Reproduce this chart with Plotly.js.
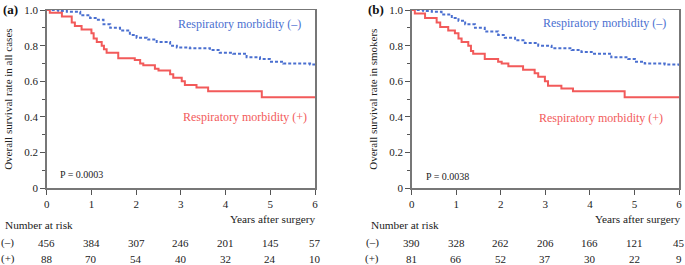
<!DOCTYPE html>
<html><head><meta charset="utf-8">
<script src="https://cdn.plot.ly/plotly-3.0.1.min.js"></script>
<style>html,body{margin:0;padding:0;background:#fff}#c{width:685px;height:265px}</style>
</head><body><div id="c"></div>
<script>
// Panel (a): all cases
const aNegT = [0, 0.26, 0.45, 0.75, 0.97, 1.12, 1.27, 1.42, 1.64, 1.86, 2.01, 2.24, 2.46, 2.76, 2.91, 3.2, 3.65, 3.87, 4.17, 4.47, 4.77, 4.99, 5.29, 5.89, 6.0];
const aNegS = [1.0, 0.995, 0.99, 0.97, 0.955, 0.945, 0.92, 0.9, 0.885, 0.86, 0.845, 0.835, 0.82, 0.80, 0.79, 0.785, 0.775, 0.76, 0.755, 0.735, 0.725, 0.71, 0.70, 0.695, 0.685];
const aPosT = [0, 0.07, 0.34, 0.56, 0.63, 0.78, 1.0, 1.05, 1.12, 1.23, 1.28, 1.34, 1.6, 1.97, 2.09, 2.16, 2.42, 2.5, 2.76, 2.83, 3.02, 3.09, 3.35, 3.61, 4.81, 6.0];
const aPosS = [1.0, 0.985, 0.963, 0.93, 0.91, 0.89, 0.87, 0.84, 0.82, 0.80, 0.78, 0.76, 0.73, 0.72, 0.70, 0.69, 0.67, 0.66, 0.64, 0.62, 0.60, 0.58, 0.565, 0.545, 0.51, 0.51];
// Panel (b): smokers
const bNegT = [0, 0.26, 0.45, 0.67, 0.9, 1.05, 1.2, 1.42, 1.64, 1.94, 2.09, 2.32, 2.54, 2.84, 3.14, 3.59, 3.81, 4.04, 4.48, 4.86, 5.01, 5.23, 5.68, 6.0];
const bNegS = [1.0, 0.995, 0.99, 0.975, 0.955, 0.94, 0.92, 0.9, 0.88, 0.86, 0.845, 0.83, 0.815, 0.80, 0.785, 0.775, 0.765, 0.755, 0.735, 0.725, 0.71, 0.70, 0.695, 0.685];
const bPosT = [0, 0.07, 0.3, 0.56, 0.64, 0.82, 0.97, 1.05, 1.12, 1.27, 1.33, 1.38, 1.64, 1.94, 2.02, 2.17, 2.5, 2.76, 2.84, 2.99, 3.06, 3.36, 3.62, 4.78, 6.0];
const bPosS = [1.0, 0.98, 0.955, 0.93, 0.905, 0.885, 0.87, 0.84, 0.82, 0.80, 0.77, 0.755, 0.725, 0.71, 0.70, 0.685, 0.665, 0.645, 0.625, 0.60, 0.575, 0.56, 0.545, 0.51, 0.51];

const riskYears = [0, 1, 2, 3, 4, 5, 6];
const aRiskNeg = [456, 384, 307, 246, 201, 145, 57];
const aRiskPos = [88, 70, 54, 40, 32, 24, 10];
const bRiskNeg = [390, 328, 262, 206, 166, 121, 45];
const bRiskPos = [81, 66, 52, 37, 30, 22, 9];

const yTickVals = [0, 0.2, 0.4, 0.6, 0.8, 1.0];
const yTickText = ['0', '0.2', '0.4', '0.6', '0.8', '1.0'];
const xTickVals = [0, 1, 2, 3, 4, 5, 6];

const yTitleA = 'Overall survival rate in all cases';
const yTitleB = 'Overall survival rate in smokers';
const labelNeg = 'Respiratory morbidity (–)';
const labelPos = 'Respiratory morbidity (+)';

const FONT = "'Liberation Serif', 'Times New Roman', 'DejaVu Serif', serif";
const RED = '#f25a5a';
const BLUE = '#4a6fd0';

function px(x){return x/685;}
function py(y){return 1 - y/265;}

const traces = [
  {x: aNegT, y: aNegS, xaxis:'x', yaxis:'y', mode:'lines', line:{shape:'hv', color:BLUE, width:2, dash:'3px,2px'}},
  {x: aPosT, y: aPosS, xaxis:'x', yaxis:'y', mode:'lines', line:{shape:'hv', color:RED, width:2}},
  {x: bNegT, y: bNegS, xaxis:'x2', yaxis:'y2', mode:'lines', line:{shape:'hv', color:BLUE, width:2, dash:'3px,2px'}},
  {x: bPosT, y: bPosS, xaxis:'x2', yaxis:'y2', mode:'lines', line:{shape:'hv', color:RED, width:2}},
];

function xax(dom){
  return {domain: dom, range:[0,6], tickvals:xTickVals, ticks:'outside', ticklen:5, tickcolor:'#555',
    showline:true, linecolor:'#777', linewidth:1.5, mirror:true, showgrid:false, zeroline:false,
    tickfont:{family:FONT, size:11, color:'#222'}, fixedrange:true};
}
function yax(anchor, title){
  return {domain:[py(188.3), py(10)], range:[0,1], anchor:anchor, tickvals:yTickVals, ticktext:yTickText,
    ticks:'outside', ticklen:5, tickcolor:'#555', minor:{dtick:0.1, ticks:'outside', ticklen:3, tickcolor:'#555'},
    showline:true, linecolor:'#777', linewidth:1.5, mirror:true, showgrid:false, zeroline:false,
    tickfont:{family:FONT, size:11, color:'#222'},
    title:{text:title, font:{family:FONT, size:11, color:'#222'}, standoff:9}};
}

const ann = [];
function T(text, x, y, opts){
  ann.push(Object.assign({text:text, x:x, y:y, xref:'paper', yref:'paper', showarrow:false,
    xanchor:'left', yanchor:'middle', font:{family:FONT, size:11.3, color:'#222'}}, opts||{}));
}
// panel labels
T('<b>(a)</b>', px(1), py(10), {font:{family:FONT, size:13, color:'#111'}});
T('<b>(b)</b>', px(366), py(10), {font:{family:FONT, size:13, color:'#111'}});
// curve labels
T(labelNeg, px(176), py(24), {font:{family:FONT, size:12, color:BLUE}});
T(labelPos, px(181), py(117), {font:{family:FONT, size:12, color:RED}});
T(labelNeg, px(541), py(23), {font:{family:FONT, size:12, color:BLUE}});
T(labelPos, px(537), py(118), {font:{family:FONT, size:12, color:RED}});
// p values
T('P = 0.0003', px(58), py(174), {font:{family:FONT, size:10, color:'#222'}});
T('P = 0.0038', px(424), py(176), {font:{family:FONT, size:10, color:'#222'}});
// axis captions
T('Years after surgery', px(318), py(219));
ann[ann.length-1].xanchor = 'right';
T('Years after surgery', px(683), py(219));
ann[ann.length-1].xanchor = 'right';
T('Number at risk', px(3), py(225));
T('Number at risk', px(369), py(225));
T('(–)', px(7.5), py(242.5), {xanchor:'center', font:{family:FONT, size:11, color:'#222'}});
T('(+)', px(7.5), py(258.5), {xanchor:'center', font:{family:FONT, size:11, color:'#222'}});
T('(–)', px(372.5), py(242.5), {xanchor:'center', font:{family:FONT, size:11, color:'#222'}});
T('(+)', px(372.5), py(258.5), {xanchor:'center', font:{family:FONT, size:11, color:'#222'}});
function riskRow(xref, vals, yy){
  vals.forEach((v,i)=>{
    ann.push({text:String(v), x:riskYears[i], y:py(yy), xref:xref, yref:'paper', showarrow:false,
      xanchor:'center', yanchor:'middle', font:{family:FONT, size:11, color:'#222'}});
  });
}
riskRow('x', aRiskNeg, 242.5);
riskRow('x', aRiskPos, 258.5);
riskRow('x2', bRiskNeg, 242.5);
riskRow('x2', bRiskPos, 258.5);

const layout = {
  width:685, height:265, margin:{l:0,r:0,t:0,b:0}, showlegend:false,
  paper_bgcolor:'#fff', plot_bgcolor:'#fff',
  font:{family:FONT},
  xaxis: xax([px(46.7), px(315)]),
  yaxis: yax('x', yTitleA),
  xaxis2: Object.assign(xax([px(411.7), px(679)]), {anchor:'y2'}),
  yaxis2: yax('x2', yTitleB),
  annotations: ann
};
layout.xaxis.anchor = 'y';
Plotly.newPlot('c', traces, layout, {staticPlot:true, displayModeBar:false});
</script></body></html>
